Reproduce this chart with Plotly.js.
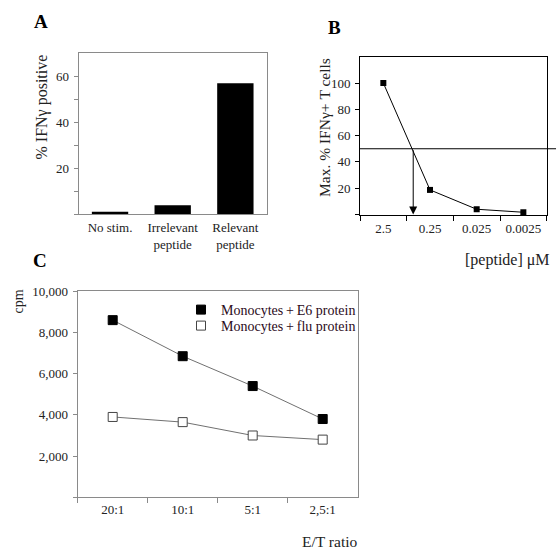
<!DOCTYPE html>
<html>
<head>
<meta charset="utf-8">
<script src="https://cdn.plot.ly/plotly-3.0.1.min.js"></script>
<style>html,body{margin:0;padding:0;background:#fff;}#chart{width:560px;height:557px;}</style>
</head>
<body>
<div id="chart"></div>
<script>
// Panel A data
var aCategories = ['No stim.', 'Irrelevant<br>peptide', 'Relevant<br>peptide'];
var aValues = [1.0, 3.8, 57];
var aTickVals = [0, 10, 20, 30, 40, 50, 60];
var aTickText = ['', '', '20', '', '40', '', '60'];

// Panel B data
var bCategories = ['2.5', '0.25', '0.025', '0.0025'];
var bValues = [100, 18.7, 4.0, 1.7];
var bTickVals = [0, 20, 40, 60, 80, 100];
var bTickText = ['', '20', '40', '60', '80', '100'];
var bHalfMax = 50;
var bArrowX = 0.64;

// Panel C data
var cCategories = ['20:1', '10:1', '5:1', '2,5:1'];
var cE6 = [8600, 6850, 5400, 3800];
var cFlu = [3900, 3650, 3000, 2800];
var cTickVals = [0, 2000, 4000, 6000, 8000, 10000];
var cTickText = ['', '2,000', '4,000', '6,000', '8,000', '10,000'];
var cNames = ['Monocytes\u2009+\u2009E6 protein', 'Monocytes\u2009+\u2009flu protein'];

var W = 560, H = 557;
function px(x){ return x / W; }
function py(y){ return 1 - y / H; }

var serif = 'Liberation Serif, Times New Roman, serif';
var tickFont = {family: serif, size: 13, color: '#222'};
var gray = '#8a8a8a';
var lineGray = '#707070';
var legendFont = {family: serif, size: 14, color: '#2b0a1a'};

var traces = [
  {type: 'bar', x: aCategories, y: aValues, xaxis: 'x', yaxis: 'y',
   marker: {color: '#000'}, width: 0.58, showlegend: false, hoverinfo: 'skip'},
  {type: 'scatter', mode: 'lines+markers', x: bCategories, y: bValues, xaxis: 'x2', yaxis: 'y2',
   line: {color: '#000', width: 1}, marker: {symbol: 'square', size: 6, color: '#000'},
   showlegend: false, cliponaxis: false},
  {type: 'scatter', mode: 'lines', x: cCategories, y: cE6, xaxis: 'x3', yaxis: 'y3',
   line: {color: lineGray, width: 1}, showlegend: false},
  {type: 'scatter', mode: 'lines', x: cCategories, y: cFlu, xaxis: 'x3', yaxis: 'y3',
   line: {color: lineGray, width: 1}, showlegend: false},
  {type: 'scatter', mode: 'markers', x: cCategories, y: cE6, xaxis: 'x3', yaxis: 'y3', name: cNames[0],
   legend: 'legend', showlegend: true,
   marker: {symbol: 'square', size: 9, color: '#000', line: {color: '#000', width: 1}}},
  {type: 'scatter', mode: 'markers', x: cCategories, y: cFlu, xaxis: 'x3', yaxis: 'y3', name: cNames[1],
   legend: 'legend2', showlegend: true,
   marker: {symbol: 'square', size: 9, color: '#fff', line: {color: '#444', width: 1}}}
];

function ann(x, y, text, size, extra){
  var a = {xref: 'paper', yref: 'paper', x: px(x), y: py(y), text: text, showarrow: false,
    xanchor: 'center', yanchor: 'middle', font: {family: serif, size: size, color: '#222'}};
  for (var k in (extra || {})) a[k] = extra[k];
  return a;
}

var layout = {
  width: W, height: H,
  margin: {l: 0, r: 0, t: 0, b: 0},
  paper_bgcolor: '#fff', plot_bgcolor: 'rgba(0,0,0,0)',
  font: {family: serif, color: '#222'},
  bargap: 0.4,
  xaxis: {domain: [px(78.7), px(266.7)], anchor: 'y', type: 'category',
    showline: true, linecolor: gray, linewidth: 1, mirror: true,
    ticks: '', showgrid: false, zeroline: false, tickfont: tickFont, ticklabelstandoff: 1,
    range: [-0.5, 2.5]},
  yaxis: {domain: [py(214), py(53.3)], anchor: 'x', range: [0, 70],
    showline: true, linecolor: gray, linewidth: 1, mirror: true,
    ticks: 'outside', ticklen: 4, tickcolor: gray, tickvals: aTickVals, ticktext: aTickText,
    showgrid: false, zeroline: false, tickfont: tickFont, ticklabelstandoff: 2},
  xaxis2: {domain: [px(360), px(546.7)], anchor: 'y2', type: 'category',
    showline: true, linecolor: '#000', linewidth: 1, mirror: true,
    ticks: 'outside', ticklen: 5, tickcolor: '#000', tickson: 'boundaries',
    showgrid: false, zeroline: false, tickfont: tickFont, ticklabelstandoff: 2, range: [-0.5, 3.5]},
  yaxis2: {domain: [py(214.5), py(56.7)], anchor: 'x2', range: [0, 120],
    showline: true, linecolor: '#000', linewidth: 1, mirror: true,
    ticks: 'outside', ticklen: 4, tickcolor: '#000', tickvals: bTickVals, ticktext: bTickText,
    showgrid: false, zeroline: false, tickfont: tickFont, ticklabelstandoff: 2},
  xaxis3: {domain: [px(77.7), px(357.7)], anchor: 'y3', type: 'category',
    showline: true, linecolor: gray, linewidth: 1, mirror: true,
    ticks: 'outside', ticklen: 5, tickcolor: gray, tickson: 'boundaries',
    showgrid: false, zeroline: false, tickfont: tickFont, range: [-0.5, 3.5]},
  yaxis3: {domain: [py(497.3), py(291.3)], anchor: 'x3', range: [0, 10000],
    showline: true, linecolor: gray, linewidth: 1, mirror: true,
    ticks: 'outside', ticklen: 4, tickcolor: gray, tickvals: cTickVals, ticktext: cTickText,
    showgrid: false, zeroline: false, tickfont: tickFont, ticklabelstandoff: 2},
  legend: {x: px(181), y: py(310), xanchor: 'left', yanchor: 'middle',
    bgcolor: 'rgba(0,0,0,0)', font: legendFont, itemwidth: 30, borderwidth: 0},
  legend2: {x: px(181), y: py(326), xanchor: 'left', yanchor: 'middle',
    bgcolor: 'rgba(0,0,0,0)', font: legendFont, itemwidth: 30, borderwidth: 0},
  shapes: [
    {type: 'line', xref: 'x2 domain', yref: 'y2', x0: 0, x1: 1.05, y0: bHalfMax, y1: bHalfMax,
     line: {color: '#000', width: 1}}
  ],
  annotations: [
    {xref: 'x2', yref: 'y2', axref: 'x2', ayref: 'y2', x: bArrowX, y: 0, ax: bArrowX, ay: bHalfMax,
     showarrow: true, arrowhead: 2, arrowsize: 1.6, arrowwidth: 1, arrowcolor: '#000', text: ''},
    ann(40.5, 21, '<b>A</b>', 19, {font: {family: serif, size: 19, color: '#000'}}),
    ann(334, 27, '<b>B</b>', 19, {font: {family: serif, size: 19, color: '#000'}}),
    ann(40, 260, '<b>C</b>', 19, {font: {family: serif, size: 19, color: '#000'}}),
    ann(41, 107.5, '% IFN\u03b3 positive', 16, {textangle: -90}),
    ann(324, 128, 'Max. % IFN\u03b3+ T cells', 15.5, {textangle: -90}),
    ann(507, 260, '[peptide] \u03bcM', 16),
    ann(18, 301.5, 'cpm', 14, {textangle: -90}),
    ann(329.5, 541.7, 'E/T ratio', 15.5)
  ]
};

Plotly.newPlot('chart', traces, layout, {staticPlot: true, displayModeBar: false});
</script>
</body>
</html>
